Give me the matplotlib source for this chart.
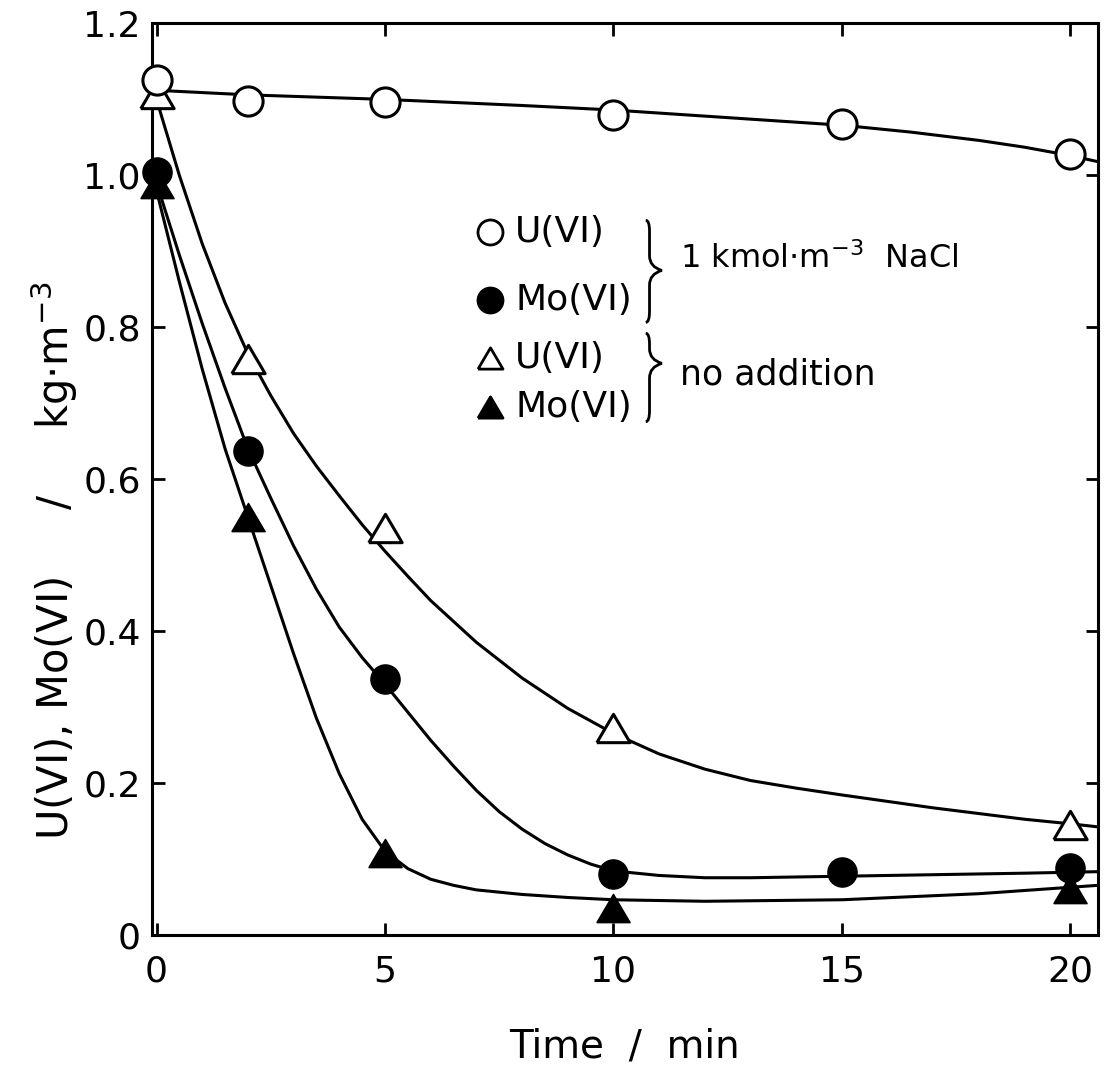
import matplotlib
matplotlib.use("Agg")
import matplotlib.pyplot as plt
from matplotlib.path import Path
from matplotlib.patches import PathPatch

# measured points (time in min, concentration in kg m^-3)
t_u_nacl = [0, 2, 5, 10, 15, 20]
u_nacl = [1.125, 1.098, 1.097, 1.080, 1.067, 1.028]
t_mo_nacl = [0, 2, 5, 10, 15, 20]
mo_nacl = [1.005, 0.637, 0.337, 0.080, 0.083, 0.088]
t_u_none = [0, 2, 5, 10, 20]
u_none = [1.107, 0.758, 0.535, 0.272, 0.145]
t_mo_none = [0, 2, 5, 10, 20]
mo_none = [0.988, 0.550, 0.108, 0.035, 0.060]

# hand-drawn guide curves
c_t_u_nacl = [0, 2, 5, 8, 10, 12, 15, 16.5, 18, 19, 20, 20.6]
c_u_nacl = [1.112, 1.106, 1.100, 1.092, 1.086, 1.078, 1.066, 1.057, 1.046, 1.037, 1.026, 1.018]
c_t_mo_nacl = [0, 0.5, 1, 1.5, 2, 2.5, 3, 3.5, 4, 4.5, 5, 5.5, 6, 6.5, 7, 7.5, 8, 8.5, 9, 9.5, 10,
               11, 12, 13, 15, 17, 19, 20.6]
c_mo_nacl = [0.99, 0.895, 0.805, 0.72, 0.64, 0.575, 0.512, 0.455, 0.405, 0.365, 0.33, 0.293, 0.256,
             0.222, 0.19, 0.162, 0.139, 0.12, 0.105, 0.093, 0.084, 0.078, 0.075, 0.075, 0.077, 0.079,
             0.081, 0.083]
c_t_u_none = [0, 0.5, 1, 1.5, 2, 2.5, 3, 3.5, 4, 4.5, 5, 5.5, 6, 7, 8, 9, 10, 11, 12, 13, 14, 15,
              17, 19, 20, 20.6]
c_u_none = [1.10, 1.00, 0.91, 0.832, 0.765, 0.71, 0.66, 0.617, 0.578, 0.54, 0.505, 0.472, 0.44,
            0.385, 0.338, 0.298, 0.265, 0.238, 0.218, 0.203, 0.193, 0.184, 0.167, 0.152, 0.146, 0.142]
c_t_mo_none = [0, 0.5, 1, 1.5, 2, 2.5, 3, 3.5, 4, 4.5, 5, 5.5, 6, 6.5, 7, 8, 9, 10, 12, 15, 18, 20.6]
c_mo_none = [0.98, 0.86, 0.745, 0.64, 0.55, 0.46, 0.37, 0.285, 0.212, 0.152, 0.11, 0.087, 0.073,
             0.065, 0.059, 0.053, 0.049, 0.046, 0.044, 0.046, 0.054, 0.065]

x_ticks = [0, 5, 10, 15, 20]
y_ticks = [0, 0.2, 0.4, 0.6, 0.8, 1.0, 1.2]
y_tick_labels = ["0", "0.2", "0.4", "0.6", "0.8", "1.0", "1.2"]

plt.rcParams["font.family"] = "DejaVu Sans"
fig = plt.figure(figsize=(11.09, 10.67), dpi=100)
ax = fig.add_axes([0.137, 0.124, 0.853, 0.854])

tri = [(-1, -0.85), (1, -0.85), (0, 0.85), (-1, -0.85)]
lw = 2.2

for cx, cy in [(c_t_u_nacl, c_u_nacl), (c_t_mo_nacl, c_mo_nacl),
               (c_t_u_none, c_u_none), (c_t_mo_none, c_mo_none)]:
    ax.plot(cx, cy, color="black", lw=lw, clip_on=False, zorder=2)

ax.plot(t_u_none, u_none, ls="none", marker=tri, ms=24, mfc="white", mec="black", mew=2.2,
        clip_on=False, zorder=3)
ax.plot(t_mo_none, mo_none, ls="none", marker=tri, ms=24, mfc="black", mec="black", mew=1,
        clip_on=False, zorder=3)
ax.plot(t_mo_nacl, mo_nacl, ls="none", marker="o", ms=21, mfc="black", mec="black", mew=1,
        clip_on=False, zorder=4)
ax.plot(t_u_nacl, u_nacl, ls="none", marker="o", ms=21, mfc="white", mec="black", mew=2.2,
        clip_on=False, zorder=4)

ax.set_xlim(-0.1, 20.6)
ax.set_ylim(0, 1.2)
ax.set_xticks(x_ticks)
ax.set_yticks(y_ticks)
ax.set_yticklabels(y_tick_labels)
ax.tick_params(direction="in", length=9, width=2, labelsize=26, top=True, right=True)
ax.tick_params(axis="x", pad=14)
ax.tick_params(axis="y", pad=8)
for s in ax.spines.values():
    s.set_linewidth(2.2)

ax.set_xlabel("Time  /  min", fontsize=28, labelpad=28)
ax.set_ylabel("U(VI), Mo(VI)     /     kg$\\cdot$m$^{-3}$", fontsize=30)
ax.yaxis.set_label_coords(-0.076, 0.41)

# legend drawn by hand, with braces
leg = [("o", "white", 0.771, "U(VI)"), ("o", "black", 0.696, "Mo(VI)"),
       (tri, "white", 0.633, "U(VI)"), (tri, "black", 0.579, "Mo(VI)")]
for m, fc, y, lab in leg:
    ax.plot([0.357], [y], marker=m, ms=18, mfc=fc, mec="black", mew=2,
            transform=ax.transAxes, clip_on=False)
    ax.text(0.384, y, lab, transform=ax.transAxes, fontsize=26, va="center", ha="left")


def brace(x0, top, bot, tip, w=0.013):
    verts = [(x0 - 0.004, top), (x0, top), (x0, top - 0.012),
             (x0, tip + 0.016), (x0, tip + 0.004), (x0 + w, tip),
             (x0, tip - 0.004), (x0, tip - 0.016),
             (x0, bot + 0.012), (x0, bot), (x0 - 0.004, bot)]
    codes = [Path.MOVETO, Path.CURVE3, Path.CURVE3,
             Path.LINETO, Path.CURVE3, Path.CURVE3,
             Path.CURVE3, Path.CURVE3,
             Path.LINETO, Path.CURVE3, Path.CURVE3]
    ax.add_patch(PathPatch(Path(verts, codes), fill=False, lw=2, ec="black",
                           transform=ax.transAxes, clip_on=False))


brace(0.526, 0.784, 0.672, 0.729)
brace(0.526, 0.660, 0.563, 0.627)
ax.text(0.558, 0.742, "1 kmol$\\cdot$m$^{-3}$  NaCl", transform=ax.transAxes, fontsize=23,
        va="center", ha="left")
ax.text(0.558, 0.615, "no addition", transform=ax.transAxes, fontsize=25, va="center", ha="left")

fig.savefig("out.png", dpi=100)
